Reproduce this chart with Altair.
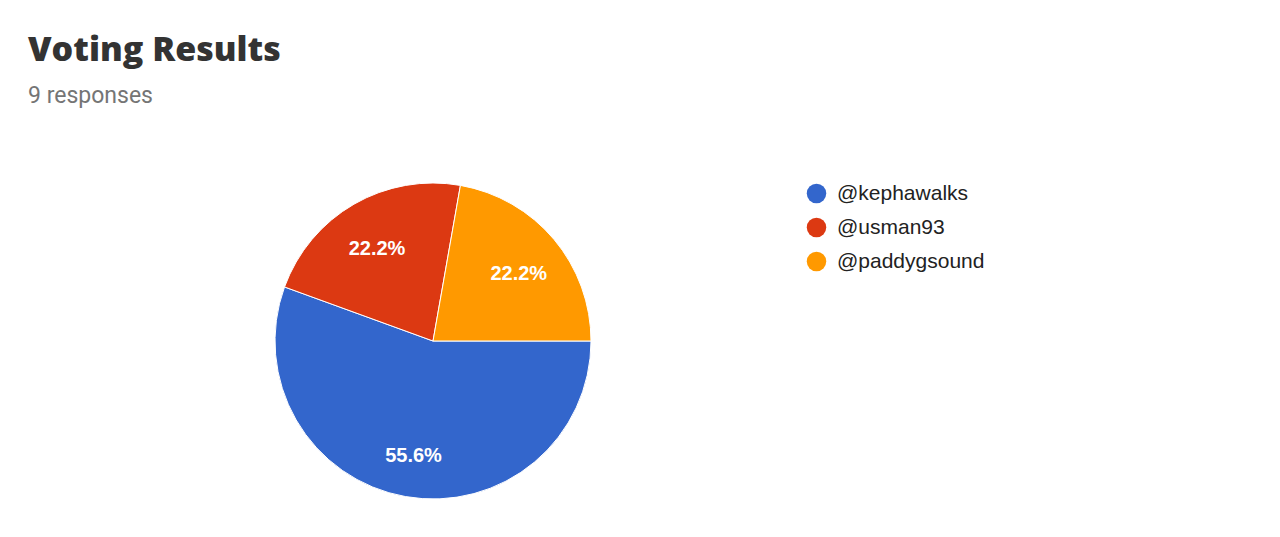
import altair as alt
import pandas as pd

names = ["@kephawalks", "@usman93", "@paddygsound"]
votes = [5, 2, 2]
colors = ["#3366CC", "#DC3912", "#FF9900"]
order = [0, 1, 2]

total = sum(votes)
df = pd.DataFrame({
    "name": names,
    "votes": votes,
    "ord": order,
    "label": [f"{v / total * 100:.1f}%" for v in votes],
})

cx, cy = 406, 213

base = alt.Chart(df).encode(
    theta=alt.Theta("votes:Q", stack=True,
                    scale=alt.Scale(range=[1.5707963, 7.8539816])),
    order=alt.Order("ord:Q"),
)

pie = base.mark_arc(outerRadius=158, stroke="white", strokeWidth=1, x=cx, y=cy).encode(
    color=alt.Color("name:N",
                    scale=alt.Scale(domain=names, range=colors),
                    sort=names,
                    legend=alt.Legend(title=None, orient="none", legendX=779, legendY=55,
                                      symbolType="circle", symbolSize=380,
                                      symbolStrokeWidth=0, labelFont="Liberation Sans",
                                      labelFontSize=21, labelColor="#222222",
                                      rowPadding=12, labelOffset=10, padding=0)),
)

text = base.mark_text(radius=112, dy=5, x=cx, y=cy, font="Liberation Sans", fontSize=20,
                      fontWeight="bold", color="white").encode(text="label:N")

chart = (pie + text).properties(
    width=1240, height=400,
    autosize=alt.AutoSizeParams(type="none"),
    padding={"left": 19, "top": 120, "right": 0, "bottom": 0},
    title=alt.TitleParams(
        text="Voting Results",
        subtitle="9 responses",
        anchor="start",
        orient="top",
        font="Open Sans",
        fontSize=34,
        fontWeight=800,
        color="#333333",
        subtitleFont="Roboto",
        subtitleFontSize=23,
        subtitleColor="#757575",
        subtitlePadding=17,
        offset=20,
        dx=1,
    ),
).configure_view(stroke=None)

chart.save("out.html", embed_options={"renderer": "svg", "actions": False})
